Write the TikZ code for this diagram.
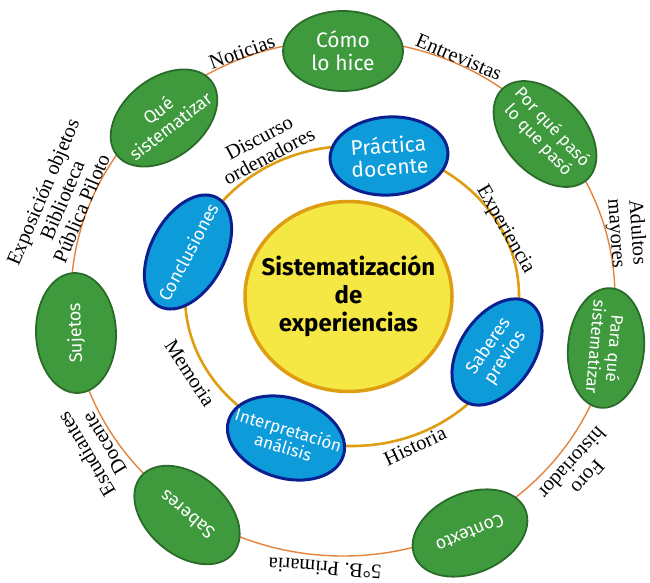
\documentclass[tikz,border=0pt]{standalone}
\usepackage{fontspec}
\usepackage{tikz}
\usetikzlibrary{shapes.geometric}
\newfontfamily\manofont{Fira Sans}
\newfontfamily\letrafont{Liberation Serif}
\definecolor{verdefondo}{HTML}{3E9A3C}
\definecolor{verdeborde}{HTML}{2B6B2A}
\definecolor{azulfondo}{HTML}{0E9BDA}
\definecolor{azulborde}{HTML}{0B2090}
\definecolor{amarillo}{HTML}{F5E844}
\definecolor{dorado}{HTML}{DF9E12}
\definecolor{naranja}{HTML}{E5823E}

\begin{document}
\begin{tikzpicture}[x=1pt,y=-1pt,
    verde/.style={ellipse,draw=verdeborde,line width=1.8pt,fill=verdefondo,text=white,
      align=center,inner xsep=-25pt,inner ysep=0pt,minimum width=120pt,minimum height=80pt,
      font=\manofont\fontsize{18}{20}\selectfont},
    azul/.style={ellipse,draw=azulborde,line width=3pt,fill=azulfondo,text=white,
      align=center,inner xsep=-25pt,inner ysep=0pt,minimum width=118pt,minimum height=78pt,
      font=\manofont\fontsize{18}{20}\selectfont},
    etiqueta/.style={align=center,inner sep=0pt,font=\letrafont\fontsize{20.5}{21}\selectfont}]
        \useasboundingbox (0,0) rectangle (650,583);
        % Los dos anillos
        \coordinate (ctr) at (343,298);
        \coordinate (ctrin) at (352,296);
        \draw[naranja,line width=1.4pt] (ctr) ellipse [x radius=272,y radius=258];
        \draw[dorado,line width=2.6pt] (ctrin) ellipse [x radius=167,y radius=150];
        % Centro
        \node[ellipse,draw=dorado,line width=3.5pt,fill=amarillo,minimum width=207pt,
              minimum height=190pt,inner xsep=-30pt,inner ysep=0pt,align=center,
              font=\manofont\bfseries\fontsize{24}{28}\selectfont]
              (sistema) at (348.5,296.5) {Sistematización\\de\\experiencias};
        % Anillo interior (azul)
        \node[azul,rotate=4,font=\manofont\fontsize{21}{22}\selectfont] (practica) at (389,156) {Práctica\\docente};
        \node[azul,rotate=62,minimum width=123pt,minimum height=74pt] (conclusiones) at (188,252) {Conclusiones};
        \node[azul,rotate=-17,minimum width=120pt,minimum height=80pt,font=\manofont\fontsize{17}{18}\selectfont] (interpretacion) at (286,438) {Interpretación\\análisis};
        \node[azul,rotate=56,minimum width=118pt,minimum height=74pt] (previos) at (497,352) {Saberes\\previos};
        % Anillo exterior (verde)
        \node[verde,font=\manofont\fontsize{21}{23}\selectfont] (como) at (343,51) {Cómo\\lo hice};
        \node[verde,rotate=38] (que) at (164,118) {Qué\\sistematizar};
        \node[verde,rotate=-47,minimum width=124pt,font=\manofont\fontsize{17}{19}\selectfont] (porque) at (545,134) {Por qué pasó\\lo que pasó};
        \node[verde,rotate=-95,minimum height=76pt,font=\manofont\fontsize{17}{19}\selectfont] (para) at (606,348) {Para qué\\sistematizar};
        \node[verde,rotate=-157] (contexto) at (470,533) {Contexto};
        \node[verde,rotate=140] (saberes) at (187,515) {Saberes};
        \node[verde,rotate=92,minimum height=80pt] (sujetos) at (76,333) {Sujetos};
        % Textos sobre el anillo exterior
        \node[etiqueta,rotate=20] (noticias) at (242,52) {Noticias};
        \node[etiqueta,rotate=-23] (entrevistas) at (459,57) {Entrevistas};
        \node[etiqueta,rotate=-86] (adultos) at (626,233) {Adultos\\mayores};
        \node[etiqueta,rotate=-132] (foro) at (580,470) {Foro\\historiador};
        \node[etiqueta,rotate=176] (primaria) at (325,568) {5°B. Primaria};
        \node[etiqueta,rotate=121] (estudiantes) at (95,449) {Estudiantes\\Docente};
        \node[etiqueta,rotate=67] (exposicion) at (62,200) {Exposición objetos\\Biblioteca\\Pública Piloto};
        % Textos sobre el anillo interior
        \node[etiqueta,rotate=28] (discurso) at (264,147) {Discurso\\ordenadores};
        \node[etiqueta,rotate=-60] (experiencia) at (505,230) {Experiencia};
        \node[etiqueta,rotate=25] (historia) at (415,446) {Historia};
        \node[etiqueta,rotate=-57] (memoria) at (190,373) {Memoria};
\end{tikzpicture}
\end{document}
